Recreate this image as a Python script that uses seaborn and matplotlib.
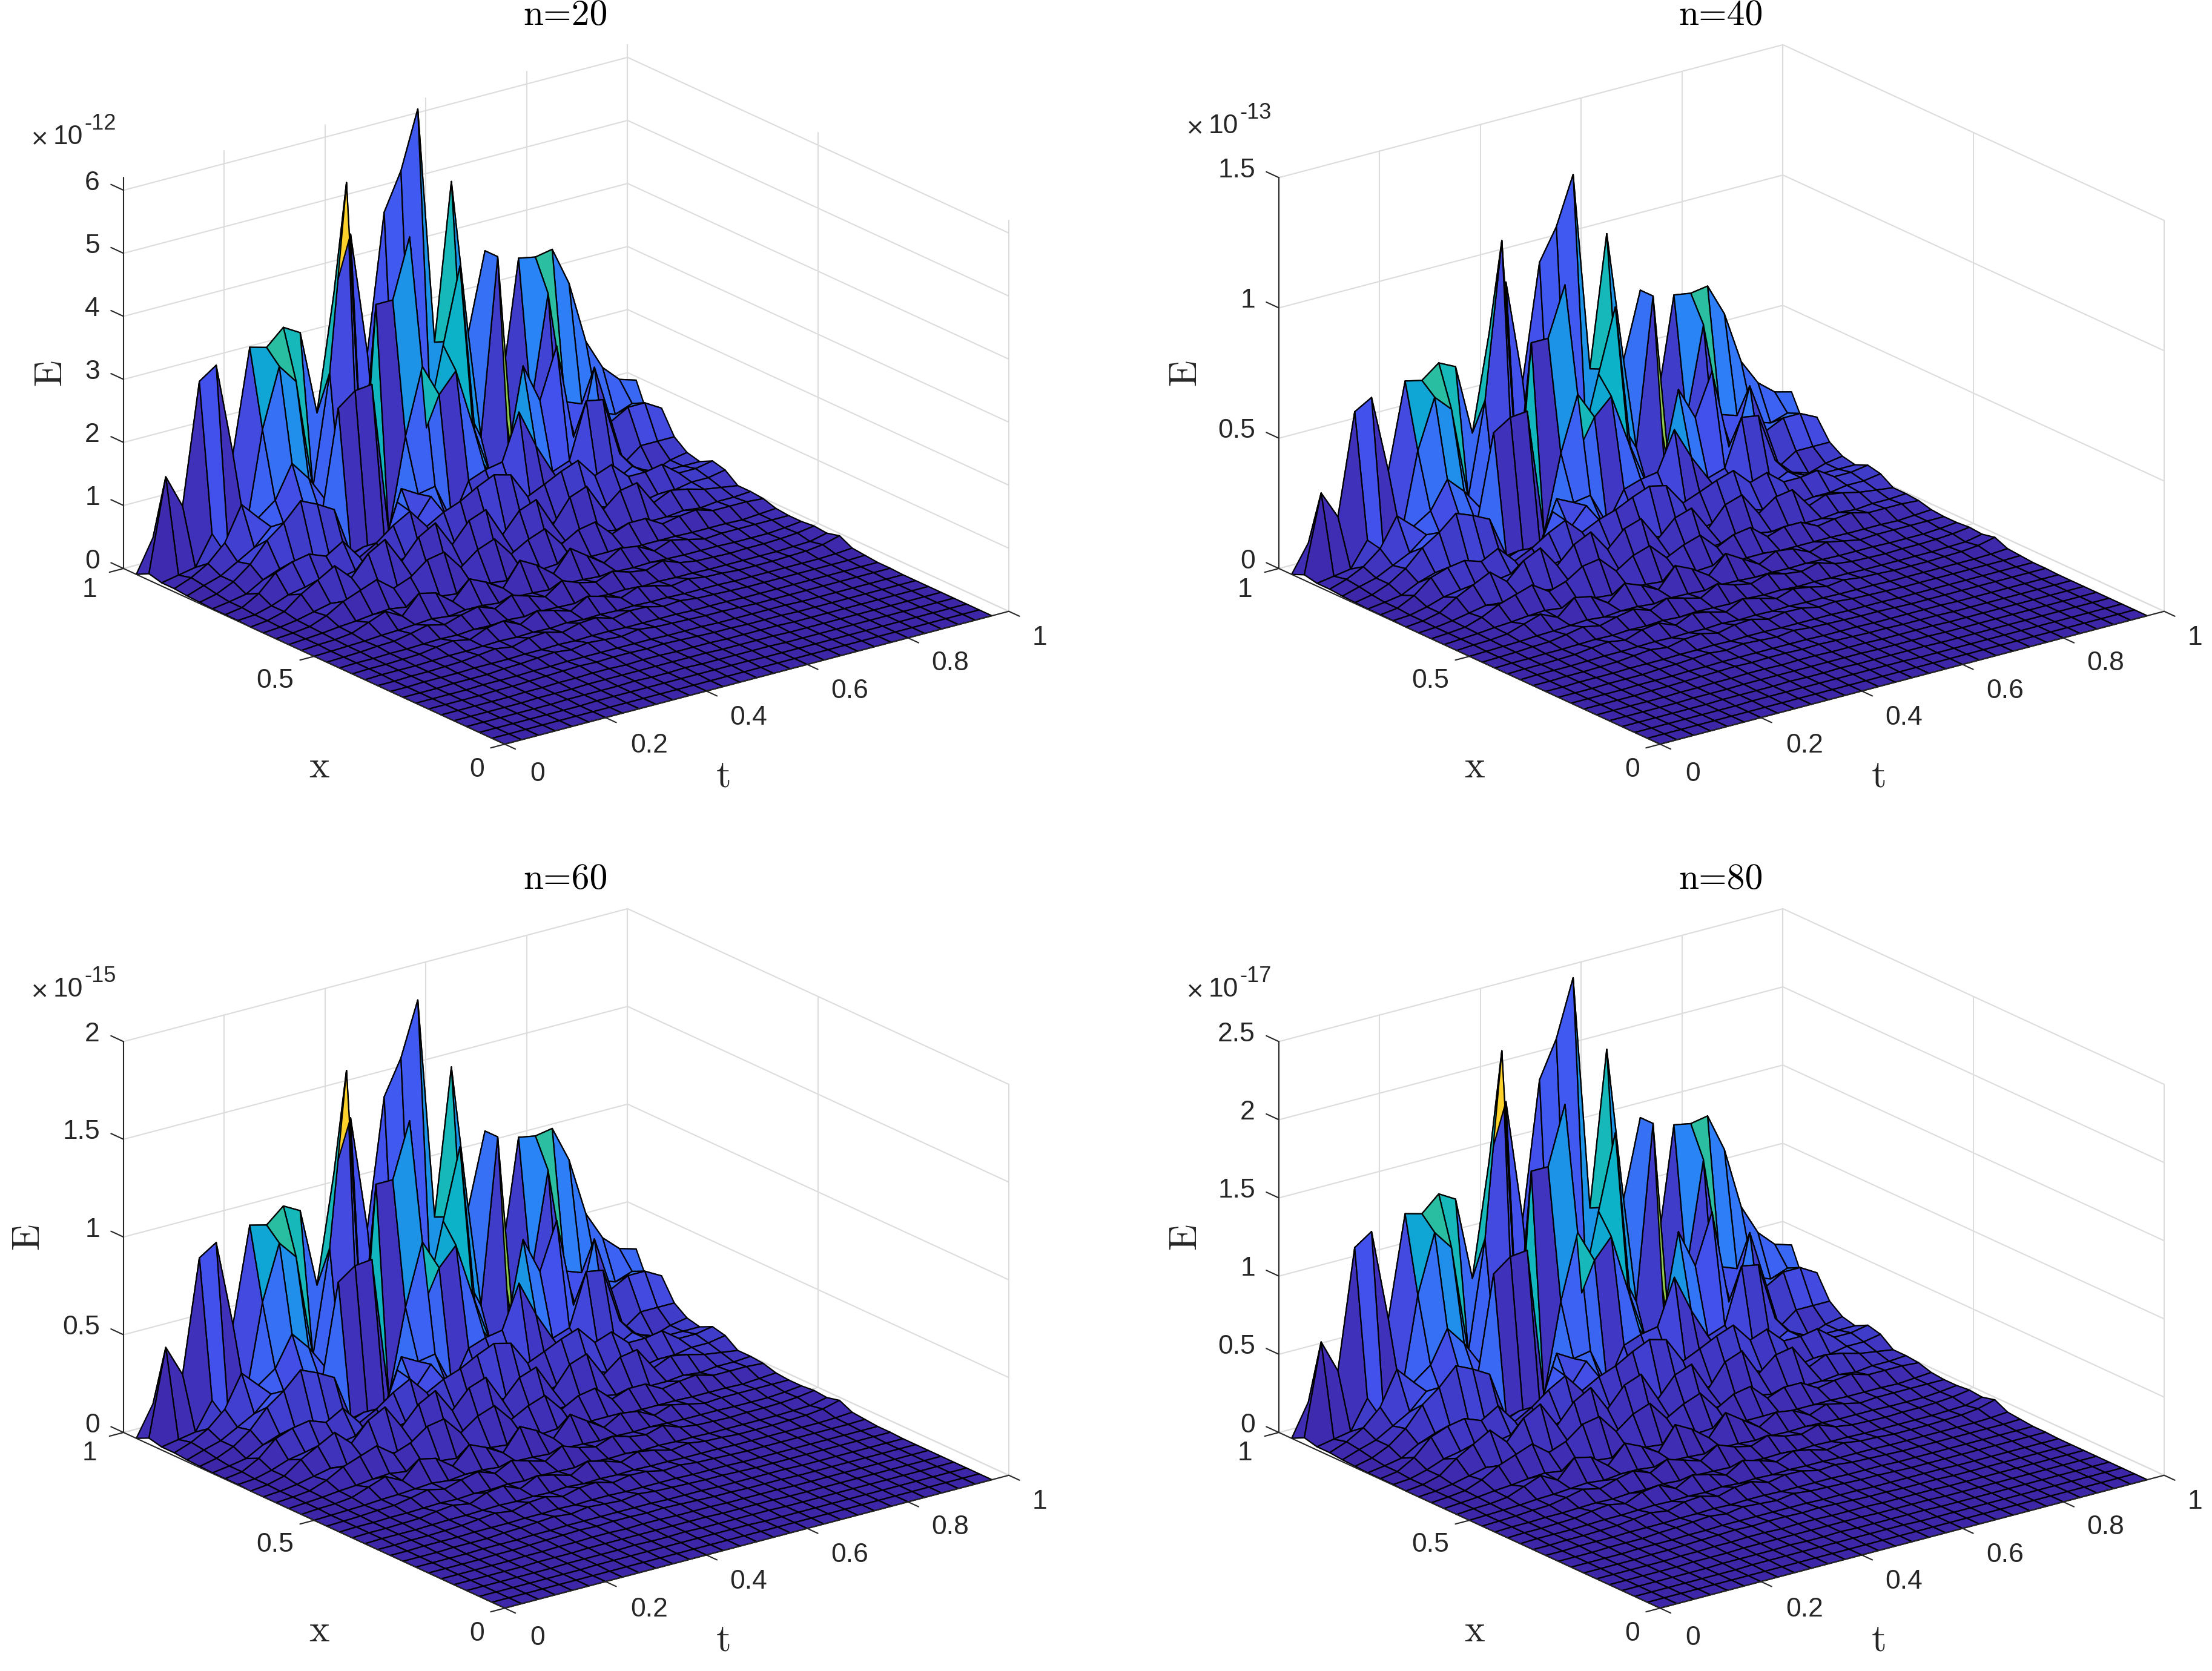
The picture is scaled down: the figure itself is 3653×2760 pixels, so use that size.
import numpy as np
import matplotlib
matplotlib.use('Agg')
import matplotlib.pyplot as plt
import seaborn as sns
from mpl_toolkits.mplot3d import proj3d

# surface grid (30 by 30 cells, stops short of the walls)
t_step = 0.03333
x_step = 0.03333

titles = ['n=20', 'n=40', 'n=60', 'n=80']
exponents = ['-12', '-13', '-15', '-17']
z_limits = [6.2, 1.5, 2.0, 2.5]
z_ticks = [[0, 1, 2, 3, 4, 5, 6], [0, 0.5, 1, 1.5], [0, 0.5, 1, 1.5, 2], [0, 0.5, 1, 1.5, 2, 2.5]]
z_ticklabels = [['0', '1', '2', '3', '4', '5', '6'], ['0', '0.5', '1', '1.5'], ['0', '0.5', '1', '1.5', '2'],
                ['0', '0.5', '1', '1.5', '2', '2.5']]
# height of the tallest spike in each panel
peaks = [6.35, 1.285, 1.91, 2.53]

t_ticks = [0, 0.2, 0.4, 0.6, 0.8, 1]
t_ticklabels = ['0', '0.2', '0.4', '0.6', '0.8', '1']
x_ticks = [0, 0.5, 1]
x_ticklabels = ['0', '0.5', '1']

# error surface as read from the n=20 panel, rows are x, columns are t
E_n20 = np.array([
    [0,0,0,0,0,0,0,0,0,0,0,0,0,0,0,0,0,0,0,0,0,0,0,0,0,0,0,0,0,0],
    [0,0,0,0,0,0,0,0,0,0,0,0,0,0,0,0,0,0,0,0,0,0,0,0,0,0,0,0,0,0],
    [0,0,0,0,0,0,0,.01,.01,.01,.01,.01,.01,.01,.01,.01,.01,0,0,0,0,0,0,0,0,0,0,0,0,0],
    [0,0,0,0,0,0,.01,.01,.01,.01,.02,.01,.01,.02,.01,.01,.01,.01,.01,0,0,0,0,0,0,0,0,0,0,0],
    [0,0,0,0,0,.01,.01,.01,.02,.02,.02,.02,.02,.02,.02,.02,.01,.01,.01,.01,0,0,0,0,0,0,0,0,0,0],
    [0,0,0,0,0,.01,.01,.02,.02,.03,.03,.02,.03,.03,.02,.02,.02,.01,.01,.01,.01,0,0,0,0,0,0,0,0,0],
    [0,0,0,0,.01,.01,.02,.03,.04,.05,.04,.05,.05,.04,.05,.04,.03,.02,.02,.01,.01,.01,0,0,0,0,0,0,0,0],
    [0,0,0,0,.01,.01,.01,.02,.02,.03,.03,.03,.03,.03,.03,.02,.02,.02,.01,.01,.01,.01,.01,0,0,0,0,0,0,0],
    [0,0,0,.01,.01,.01,.03,.04,.06,.08,.05,.09,.07,.05,.09,.06,.05,.04,.03,.03,.02,.01,.01,.01,.01,.01,.01,.01,.01,.01],
    [0,0,.01,.01,.01,.02,.02,.02,.03,.03,.04,.03,.04,.04,.03,.03,.03,.03,.02,.02,.02,.01,.01,.01,.01,.01,.01,.01,.01,.01],
    [0,0,.01,.01,.02,.03,.06,.09,.05,.12,.14,.07,.14,.16,.08,.13,.12,.06,.08,.05,.04,.03,.02,.02,.02,.02,.02,.02,.02,.03],
    [0,.01,.01,.01,.02,.03,.03,.04,.05,.04,.05,.04,.06,.04,.05,.04,.05,.04,.04,.03,.03,.03,.02,.02,.02,.02,.02,.02,.03,.05],
    [0,.01,.01,.02,.03,.07,.1,.05,.16,.2,.08,.22,.16,.08,.24,.17,.08,.18,.13,.06,.1,.06,.05,.03,.03,.03,.04,.05,.08,.15],
    [0,.01,.01,.02,.02,.03,.04,.03,.05,.04,.06,.04,.06,.05,.04,.06,.04,.05,.03,.04,.03,.03,.02,.02,.02,.02,.02,.03,.04,.1],
    [0,.01,.02,.04,.05,.1,.16,.1,.18,.24,.14,.28,.2,.12,.3,.2,.14,.24,.16,.12,.2,.1,.06,.05,.04,.05,.05,.06,.08,.12],
    [0,.01,.02,.03,.05,.06,.08,.1,.07,.1,.1,.07,.1,.09,.07,.1,.09,.07,.08,.07,.08,.07,.06,.06,.06,.05,.05,.05,.07,.1],
    [0,.02,.03,.06,.16,.26,.12,.4,.34,.14,.42,.3,.14,.5,.36,.16,.48,.3,.12,.28,.24,.1,.2,.14,.08,.1,.1,.1,.1,.1],
    [0,.02,.04,.07,.09,.12,.14,.1,.15,.13,.1,.15,.13,.1,.15,.13,.15,.1,.13,.13,.1,.1,.1,.1,.09,.09,.09,.08,.1,.12],
    [0,.02,.05,.15,.3,.4,.5,.3,.4,.6,.65,.35,.55,.65,.35,.5,.6,.3,.45,.5,.25,.35,.35,.2,.25,.28,.2,.2,.2,.18],
    [0,.02,.06,.12,.18,.15,.18,.2,.15,.2,.15,.2,.15,.2,.15,.18,.2,.15,.18,.15,.2,.15,.18,.15,.15,.18,.15,.18,.18,.2],
    [0,.03,.1,.3,.45,.6,.35,.65,.8,.4,.7,.85,.45,.75,.85,.4,.7,.8,.35,.7,.8,.38,.6,.65,.28,.4,.35,.28,.24,.2],
    [.01,.03,.1,.2,.25,.2,.25,.3,.15,.25,.3,.2,.3,.25,.2,.35,.25,.3,.2,.25,.3,.35,.25,.3,.2,.25,.25,.3,.3,.35],
    [.01,.05,.2,.45,.55,.6,.5,.66,.35,.5,.7,.85,.55,.7,.8,.95,1.07,1.0,.6,.72,.85,.95,.65,.75,.5,.5,.55,.35,.35,.4],
    [.01,.05,.1,.25,.35,.3,.4,.3,.25,.35,.15,.9,.5,.85,.4,.5,.3,.45,.45,.25,.2,.4,.45,.3,.35,.5,.35,.3,.3,.3],
    [.02,.08,.2,.4,.7,.9,1.17,1.05,.9,.15,.15,.2,.95,.8,.85,.25,.8,.9,.95,1.65,1.07,.6,.7,1.55,1.5,.6,.3,.2,.3,.35],
    [.03,.12,.2,.35,.5,.75,.55,.9,.7,2.3,2.5,2.53,.2,1.6,2.6,2.1,2.4,1.5,.7,.8,2.2,1.6,2.37,.9,1.1,.3,.3,.5,.5,.5],
    [.05,.15,.3,.55,1.07,.8,1.0,1.5,1.2,.8,.5,.6,3.6,3.6,4.5,1.5,2.7,3.85,.9,.3,.3,.4,.4,.4,.6,1.75,.85,1.0,1.0,.85],
    [.05,.1,.15,.6,.15,.5,2.0,2.9,2.6,.9,2.6,5.45,.6,.6,.7,.7,1.6,2.6,1.6,1.0,3.7,.3,1.3,2.93,1.2,1.1,.9,.8,.9,.6],
    [.1,1.52,1.0,2.85,3.03,1.6,3.17,3.1,3.34,3.19,1.89,3.64,4.5,2.6,4.7,5.27,6.15,2.5,4.9,2.5,3.7,1.55,3.45,3.4,3.45,2.86,1.9,1.43,1.18,1.1],
    [0,.5,.4,.8,.9,.5,.9,.9,1.0,.9,.6,1.0,1.2,.8,1.2,1.4,1.5,.8,1.2,.8,1.0,.6,1.0,1.0,1.0,.9,.7,.6,.5,.4],
])

# MATLAB parula anchors
parula = sns.blend_palette(['#3e26a8', '#4354f0', '#2c82f9', '#109fd9', '#0cb5c5', '#35c193', '#8cc84f',
                            '#cfc02f', '#f4ba35', '#fdd629', '#f9fb0e'], n_colors=256, as_cmap=True)

sns.set_style('white')
plt.rcParams['font.family'] = ['Liberation Sans', 'DejaVu Sans']
INK = '#262626'
GRID = '#dcdcdc'

W, H = 3653, 2760
fig = plt.figure(figsize=(W / 100, H / 100), dpi=100)

# corners of the n=20 box in image pixels, other panels are shifted copies
LEFT = (204, 939)
BOTTOM = (834, 1228)
RIGHT = (1666, 1006)
PANEL_DX = 1908
PANEL_DY = 1427


def to_px(ax, t, x, z):
    a, b, _ = proj3d.proj_transform(t, x, z, ax.get_proj())
    px, py = ax.transData.transform((a, b))
    return px, H - py


def put_text(px, py, s, **kw):
    fig.text(px / W, 1 - py / H, s, **kw)


def tick_label(ax, t, x, z, s, dx, dy, ha='center'):
    a, b, _ = proj3d.proj_transform(t, x, z, ax.get_proj())
    ax.annotate(s, xy=(a, b), xycoords='data', xytext=(dx, -dy), textcoords='offset pixels',
                ha=ha, va='center', fontsize=32, color=INK)


def draw_panel(k):
    col, row = k % 2, k // 2
    ox, oy = col * PANEL_DX, row * PANEL_DY
    zmax = z_limits[k]
    Z = E_n20 / E_n20.max() * peaks[k]
    T, X = np.meshgrid(np.arange(30) * t_step, np.arange(30) * x_step)

    side = 1700
    ax = fig.add_axes([0.1, 0.1, side / W, side / H], projection='3d', proj_type='ortho')
    ax.set_box_aspect((1, 1, 0.66))
    ax.view_init(elev=20.4, azim=-127.1)
    ax.computed_zorder = False
    ax.set_axis_off()

    # walls
    for z in z_ticks[k]:
        ax.plot([0, 1], [1, 1], [z, z], color=GRID, lw=1.5, zorder=1)
        ax.plot([1, 1], [0, 1], [z, z], color=GRID, lw=1.5, zorder=1)
    for t in t_ticks[1:]:
        ax.plot([t, t], [1, 1], [0, zmax], color=GRID, lw=1.5, zorder=1)
        ax.plot([t, t], [0, 1], [0, 0], color=GRID, lw=1.5, zorder=1)
    for x in x_ticks:
        ax.plot([1, 1], [x, x], [0, zmax], color=GRID, lw=1.5, zorder=1)
        ax.plot([0, 1], [x, x], [0, 0], color=GRID, lw=1.5, zorder=1)

    surf = ax.plot_surface(T, X, Z, rstride=1, cstride=1, facecolors=parula(Z / Z.max()), shade=False,
                           linewidth=1.6, antialiased=True, zorder=2)
    surf.set_edgecolor('black')

    # axes lines and ticks
    ax.plot([0, 0], [1, 1], [0, zmax], color=INK, lw=1.5, zorder=3)
    ax.plot([0, 0], [0, 1], [0, 0], color=INK, lw=1.5, zorder=3)
    ax.plot([0, 1], [0, 0], [0, 0], color=INK, lw=1.5, zorder=3)
    for z in z_ticks[k]:
        ax.plot([0, 0], [1, 1.033], [z, z], color=INK, lw=1.5, zorder=3)
    for t in t_ticks:
        ax.plot([t, t], [0, -0.028], [0, 0], color=INK, lw=1.5, zorder=3)
    for x in x_ticks:
        ax.plot([0, -0.028], [x, x], [0, 0], color=INK, lw=1.5, zorder=3)
    ax.set_xlim(0, 1)
    ax.set_ylim(0, 1)
    ax.set_zlim(0, zmax)

    # move and scale the axes so the box lands on the reference corners
    ax.apply_aspect()
    l = to_px(ax, 0, 1, 0)
    r = to_px(ax, 1, 0, 0)
    side *= (RIGHT[0] - LEFT[0]) / (r[0] - l[0])
    ax.set_position([0.1, 0.1, side / W, side / H])
    ax.apply_aspect()
    l = to_px(ax, 0, 1, 0)
    x0 = 0.1 * W + LEFT[0] + ox - l[0]
    y0 = 0.1 * H - (LEFT[1] + oy - l[1])
    ax.set_position([x0 / W, y0 / H, side / W, side / H])
    ax.apply_aspect()

    for z, s in zip(z_ticks[k], z_ticklabels[k]):
        tick_label(ax, 0, 1, z, s, -39, -12, ha='right')
    for x, s, d in zip(x_ticks, x_ticklabels, [(-46, 42), (-65, 40), (-56, 35)]):
        tick_label(ax, 0, x, 0, s, d[0], d[1])
    for t, s, d in zip(t_ticks, t_ticklabels, [(54, 49), (72, 46), (70, 44), (70, 44), (70, 42), (51, 44)]):
        tick_label(ax, t, 0, 0, s, d[0], d[1])

    # labels, title and the exponent sit at fixed spots in each panel
    put_text(934 + ox, 26 + oy, titles[k], fontsize=43, family='cmr10', color='black', ha='center', va='center')
    put_text(527 + ox, 1268 + oy, 'x', fontsize=46, family='cmr10', color=INK, ha='center', va='center')
    put_text(1195 + ox, 1284 + oy, 't', fontsize=46, family='cmr10', color=INK, ha='center', va='center')
    ex = 47 if k == 2 else 84 if k == 0 else 1958 - PANEL_DX
    put_text(ex + ox, 615 + oy, 'E', fontsize=46, family='cmr10', color=INK,
             rotation=90, ha='center', va='center')
    my = 227 if k == 0 else 209 if k == 1 else 208
    put_text(50 + ox, my + 3 + oy, '\u00d7', fontsize=27, family='DejaVu Sans', color=INK, ha='left', va='center')
    put_text(88 + ox, my + oy, '10', fontsize=32, color=INK, ha='left', va='center')
    put_text(139 + ox, my - 22 + oy, exponents[k], fontsize=26, color=INK, ha='left', va='center')


for k in range(4):
    draw_panel(k)

fig.savefig('out.png', dpi=100, facecolor='white')
